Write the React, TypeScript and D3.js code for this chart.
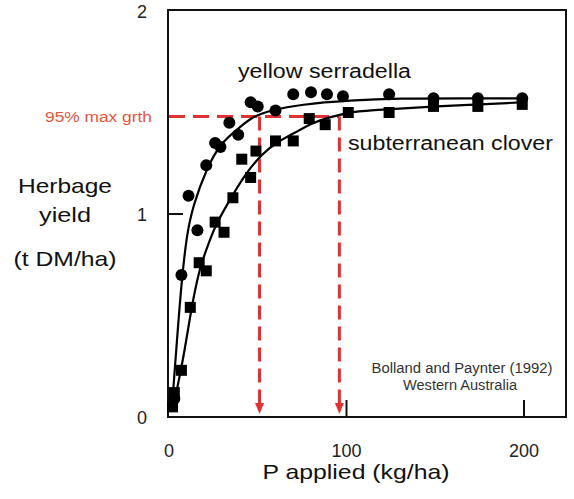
import { FC, useRef, useEffect } from 'react'
import * as d3 from 'd3'

// measured points (P applied kg/ha, yield t DM/ha)
const serradellaX = [3, 7, 11, 16, 21, 26, 29, 34, 39, 46, 50, 60, 70, 80, 89, 98, 124, 149, 174, 199]
const serradellaY = [0.09, 0.7, 1.09, 0.92, 1.24, 1.35, 1.33, 1.45, 1.39, 1.55, 1.53, 1.51, 1.59, 1.6, 1.59, 1.58, 1.59, 1.57, 1.57, 1.57]

const cloverX = [2, 3, 7, 12, 17, 21, 26, 31, 36, 41, 46, 49, 60, 70, 79, 88, 101, 124, 149, 174, 199]
const cloverY = [0.05, 0.12, 0.23, 0.54, 0.76, 0.72, 0.96, 0.91, 1.08, 1.27, 1.18, 1.31, 1.36, 1.36, 1.47, 1.44, 1.5, 1.5, 1.53, 1.53, 1.54]

// fitted response curves
const serradellaFitX = [1.5, 4.5, 7, 10, 13.5, 21, 29, 39, 47, 57, 74, 102, 130, 165, 199]
const serradellaFitY = [0.03, 0.38, 0.66, 0.9, 1.04, 1.22, 1.35, 1.42, 1.48, 1.51, 1.54, 1.56, 1.57, 1.57, 1.57]

const cloverFitX = [2, 5.5, 8.5, 12.5, 17, 22.5, 26.5, 33, 43, 53, 60, 71, 81, 92, 101, 111, 149, 199]
const cloverFitY = [0.03, 0.18, 0.31, 0.53, 0.73, 0.86, 0.95, 1.05, 1.2, 1.3, 1.35, 1.4, 1.45, 1.48, 1.5, 1.51, 1.53, 1.55]

// 95% of max growth and the P rates where each curve reaches it
const thresholdY = 1.48
const thresholdX = [51, 96]

const xTicks = [0, 100, 200]
const yTicks = [0, 1, 2]

const FONT = "'Liberation Sans', Arial, sans-serif"

const App: FC = () => {
  const svgRef = useRef<SVGSVGElement>(null)

  useEffect(() => {
    if (!svgRef.current) return
    const svg = d3.select(svgRef.current)
    svg.selectAll('*').remove()

    const x = d3.scaleLinear().domain([0, 200]).range([169, 524])
    const y = d3.scaleLinear().domain([0, 2]).range([417, 11])

    svg.append('rect').attr('width', 574).attr('height', 499).attr('fill', '#fff')

    // frame
    svg.append('rect')
      .attr('x', 168).attr('y', 10)
      .attr('width', 398).attr('height', 407)
      .attr('fill', 'none').attr('stroke', '#111').attr('stroke-width', 2)

    // inward ticks
    svg.selectAll('.xt').data(xTicks.slice(1)).enter().append('line')
      .attr('x1', d => x(d)).attr('x2', d => x(d))
      .attr('y1', 417).attr('y2', 400)
      .attr('stroke', '#111').attr('stroke-width', 2)
    svg.append('line')
      .attr('x1', 168).attr('x2', 183)
      .attr('y1', y(1)).attr('y2', y(1))
      .attr('stroke', '#111').attr('stroke-width', 2)

    // tick labels
    svg.selectAll('.xl').data(xTicks).enter().append('text')
      .attr('x', d => x(d)).attr('y', 457)
      .attr('text-anchor', 'middle')
      .attr('font-family', FONT).attr('font-size', 18).attr('fill', '#222')
      .text(d => d)
    svg.selectAll('.yl').data(yTicks).enter().append('text')
      .attr('x', 142).attr('y', d => y(d) + 7)
      .attr('text-anchor', 'middle')
      .attr('font-family', FONT).attr('font-size', 18).attr('fill', '#222')
      .text(d => d)

    // red 95% guide lines
    const red = '#e03232'
    const ty = y(thresholdY)
    svg.append('line')
      .attr('x1', x(0)).attr('x2', x(thresholdX[1]))
      .attr('y1', ty).attr('y2', ty)
      .attr('stroke', red).attr('stroke-width', 3)
      .attr('stroke-dasharray', '16 8')
    thresholdX.forEach(v => {
      const px = x(v)
      svg.append('line')
        .attr('x1', px).attr('x2', px)
        .attr('y1', ty).attr('y2', 404)
        .attr('stroke', red).attr('stroke-width', 3)
        .attr('stroke-dasharray', '14 7')
      svg.append('path')
        .attr('d', `M${px - 4.5},403 L${px + 4.5},403 L${px},414 Z`)
        .attr('fill', red)
    })
    svg.append('text')
      .attr('x', 152).attr('y', ty + 5)
      .attr('text-anchor', 'end')
      .attr('font-family', FONT).attr('font-size', 14).attr('fill', '#e8553a')
      .attr('textLength', 107).attr('lengthAdjust', 'spacingAndGlyphs')
      .text('95% max grth')

    // fitted curves
    const line = d3.line<[number, number]>()
      .x(d => x(d[0])).y(d => y(d[1]))
      .curve(d3.curveBasis)
    const fits = [
      d3.zip(serradellaFitX, serradellaFitY) as [number, number][],
      d3.zip(cloverFitX, cloverFitY) as [number, number][],
    ]
    fits.forEach(f => {
      svg.append('path')
        .attr('d', line(f) as string)
        .attr('fill', 'none').attr('stroke', '#000').attr('stroke-width', 2.2)
    })

    // markers
    svg.selectAll('.sq').data(d3.zip(cloverX, cloverY)).enter().append('rect')
      .attr('x', d => x(d[0]) - 5.5).attr('y', d => y(d[1]) - 5.5)
      .attr('width', 11).attr('height', 11)
      .attr('fill', '#000')
    svg.selectAll('.ci').data(d3.zip(serradellaX, serradellaY)).enter().append('circle')
      .attr('cx', d => x(d[0])).attr('cy', d => y(d[1]))
      .attr('r', 6)
      .attr('fill', '#000')

    // series labels
    svg.append('text')
      .attr('x', 238).attr('y', 78)
      .attr('font-family', FONT).attr('font-size', 20).attr('fill', '#111')
      .attr('textLength', 173).attr('lengthAdjust', 'spacingAndGlyphs')
      .text('yellow serradella')
    svg.append('text')
      .attr('x', 348).attr('y', 150)
      .attr('font-family', FONT).attr('font-size', 20).attr('fill', '#111')
      .attr('textLength', 205).attr('lengthAdjust', 'spacingAndGlyphs')
      .text('subterranean  clover')

    // axis titles
    const yTitle: [string, number, number][] = [
      ['Herbage', 193, 94],
      ['yield', 222, 52],
      ['(t DM/ha)', 266, 103],
    ]
    yTitle.forEach(([t, by, len]) => {
      svg.append('text')
        .attr('x', 65).attr('y', by)
        .attr('text-anchor', 'middle')
        .attr('font-family', FONT).attr('font-size', 21).attr('fill', '#111')
        .attr('textLength', len).attr('lengthAdjust', 'spacingAndGlyphs')
        .text(t)
    })
    svg.append('text')
      .attr('x', 356).attr('y', 479)
      .attr('text-anchor', 'middle')
      .attr('font-family', FONT).attr('font-size', 21).attr('fill', '#111')
      .attr('textLength', 187).attr('lengthAdjust', 'spacingAndGlyphs')
      .text('P applied (kg/ha)')

    // source note
    svg.append('text')
      .attr('x', 462).attr('y', 373)
      .attr('text-anchor', 'middle')
      .attr('font-family', FONT).attr('font-size', 14).attr('fill', '#333')
      .attr('textLength', 181).attr('lengthAdjust', 'spacingAndGlyphs')
      .text('Bolland and Paynter (1992)')
    svg.append('text')
      .attr('x', 460).attr('y', 390)
      .attr('text-anchor', 'middle')
      .attr('font-family', FONT).attr('font-size', 14).attr('fill', '#333')
      .attr('textLength', 114).attr('lengthAdjust', 'spacingAndGlyphs')
      .text('Western Australia')
  }, [])

  return (
    <svg
      ref={svgRef}
      width={574}
      height={499}
      style={{ position: 'absolute', left: 0, top: 0 }}
    />
  )
}

export default App
